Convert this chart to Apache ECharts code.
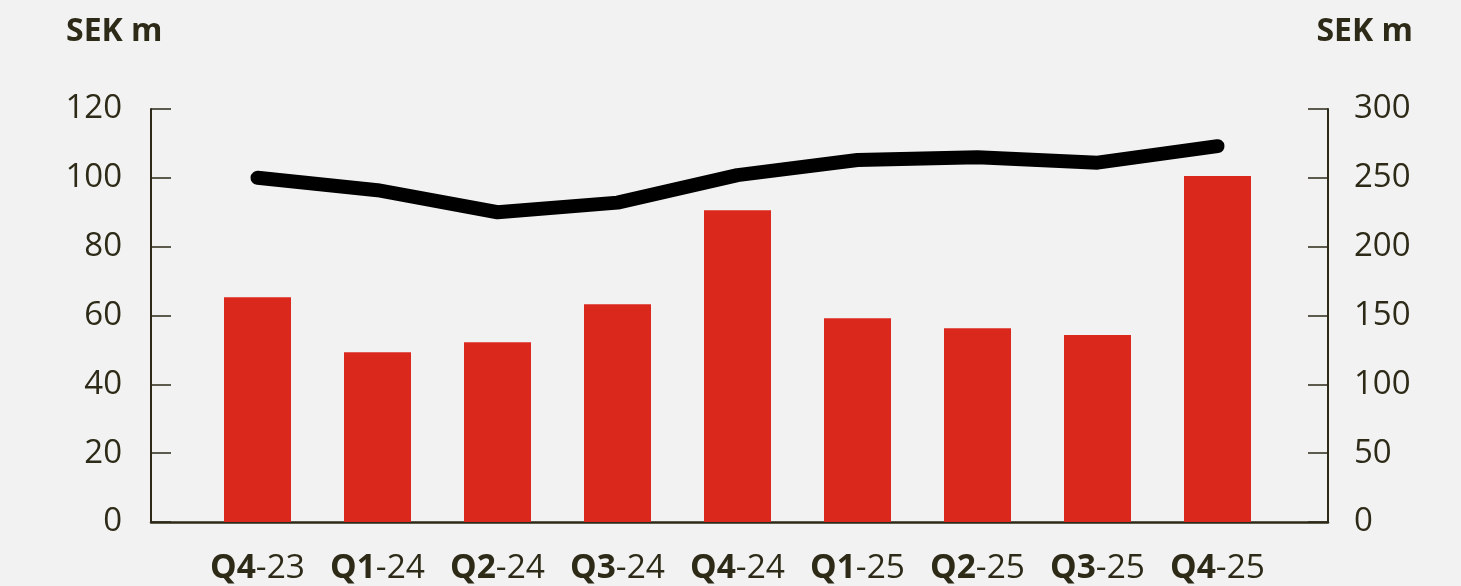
<!DOCTYPE html>
<html>
<head>
<meta charset="utf-8">
<script src="https://cdn.jsdelivr.net/npm/echarts@6/dist/echarts.min.js"></script>
<style>
  html, body { margin: 0; padding: 0; background: #f2f2f2; }
  #chart { width: 1461px; height: 586px; }
</style>
</head>
<body>
<div id="chart"></div>
<script>
// quarters on the x axis
var quarters = ['Q4-23', 'Q1-24', 'Q2-24', 'Q3-24', 'Q4-24', 'Q1-25', 'Q2-25', 'Q3-25', 'Q4-25'];
// red bars, left axis (SEK m)
var barValues = [65.3, 49.3, 52.2, 63.3, 90.6, 59.2, 56.3, 54.3, 100.5];
// black line, right axis (SEK m)
var lineValues = [250, 241, 225, 232, 252, 263, 265, 261, 273];
var axisUnit = 'SEK m';

var ink = '#2d2a17';
var font = 'Open Sans';

var chart = echarts.init(document.getElementById('chart'));
var option = {
  backgroundColor: '#f2f2f2',
  animation: false,
  textStyle: { fontFamily: font, color: ink },
  title: [
    { text: axisUnit, left: 61, top: 11, textStyle: { fontFamily: font, fontSize: 32, fontWeight: 'bold', color: ink } },
    { text: axisUnit, right: 43, top: 11, textStyle: { fontFamily: font, fontSize: 32, fontWeight: 'bold', color: ink } }
  ],
  grid: [
    { left: 197.5, right: 183.5, top: 109, bottom: 64 },
    { left: 151, right: 133, top: 109, bottom: 64 }
  ],
  xAxis: [
    {
      type: 'category',
      gridIndex: 0,
      data: quarters,
      boundaryGap: true,
      axisLine: { show: false },
      axisTick: { show: false },
      axisLabel: {
        margin: 29,
        formatter: function (v) {
          var p = v.split('-');
          return '{b|' + p[0] + '}{r|-' + p[1] + '}';
        },
        rich: {
          b: { fontFamily: font, fontSize: 33.5, fontWeight: 'bold', color: ink },
          r: { fontFamily: font, fontSize: 33.5, color: ink }
        }
      }
    },
    {
      type: 'value',
      gridIndex: 1,
      min: 0,
      max: 1,
      axisLine: { show: true, lineStyle: { color: ink, width: 2.5 } },
      axisTick: { show: false },
      axisLabel: { show: false },
      splitLine: { show: false }
    }
  ],
  yAxis: [
    {
      type: 'value',
      gridIndex: 0,
      position: 'left',
      offset: 46.5,
      min: 0,
      max: 120,
      interval: 20,
      axisLine: { show: true, lineStyle: { color: ink, width: 2 } },
      axisTick: { show: true, inside: true, length: 20, lineStyle: { color: ink, width: 1.5 } },
      axisLabel: { margin: 29, fontFamily: font, fontSize: 33, color: ink, padding: [8, 0, 0, 0] },
      splitLine: { show: false }
    },
    {
      type: 'value',
      gridIndex: 0,
      position: 'right',
      offset: 50.5,
      min: 0,
      max: 300,
      interval: 50,
      axisLine: { show: true, lineStyle: { color: ink, width: 2 } },
      axisTick: { show: true, inside: true, length: 20, lineStyle: { color: ink, width: 1.5 } },
      axisLabel: { margin: 26, fontFamily: font, fontSize: 33, color: ink, padding: [8, 0, 0, 0] },
      splitLine: { show: false }
    },
    {
      type: 'value',
      gridIndex: 1,
      show: false,
      min: 0,
      max: 1
    }
  ],
  series: [
    {
      name: 'bars',
      type: 'bar',
      xAxisIndex: 0,
      yAxisIndex: 0,
      data: barValues,
      barWidth: 67,
      itemStyle: { color: '#da291c' }
    },
    {
      name: 'line',
      type: 'line',
      xAxisIndex: 0,
      yAxisIndex: 1,
      data: lineValues,
      showSymbol: false,
      symbol: 'none',
      lineStyle: { color: '#000', width: 14, cap: 'round', join: 'round' },
      z: 3
    }
  ]
};
chart.setOption(option);
</script>
</body>
</html>
